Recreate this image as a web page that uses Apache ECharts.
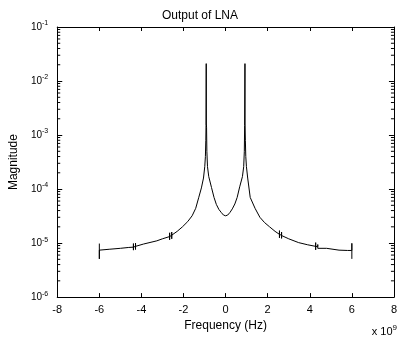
<!DOCTYPE html>
<html>
<head>
<meta charset="utf-8">
<script src="https://cdn.jsdelivr.net/npm/echarts@6/dist/echarts.min.js"></script>
<style>
  html, body { margin: 0; padding: 0; background: #fff; }
  #main { width: 400px; height: 337px; }
</style>
</head>
<body>
<div id="main"></div>
<script>
// frequency in units of 1e9 Hz, magnitude on log scale
var freq = [
  -6, -6, -6, -5.5, -5.0, -4.6,
  -4.38, -4.38, -4.38, -4.38, -4.28, -4.28, -4.28, -4.28,
  -3.9, -3.27, -3.0,
  -2.66, -2.66, -2.66, -2.66, -2.56, -2.56, -2.56, -2.56,
  -2.3, -2.05, -1.8, -1.59, -1.42, -1.28, -1.15, -1.05, -0.99, -0.96, -0.94, -0.93, -0.925,
  -0.92, -0.915, -0.905, -0.89, -0.86, -0.8, -0.67, -0.55, -0.44, -0.32, -0.21, -0.1, 0,
  0.1, 0.21, 0.32, 0.44, 0.55, 0.67, 0.8, 0.86, 0.89, 0.905, 0.915, 0.92, 0.925, 0.93,
  0.94, 0.96, 0.99, 1.05, 1.17, 1.4, 1.63, 1.85, 2.09, 2.35,
  2.56, 2.56, 2.56, 2.56, 2.66, 2.66, 2.66, 2.66,
  3.0, 3.47, 3.9,
  4.28, 4.28, 4.28, 4.28, 4.38, 4.38, 4.38, 4.38,
  4.8, 5.39, 5.8, 6, 6, 6
];
var magnitude = [
  9.8e-6, 5.1e-6, 7.4e-6, 7.7e-6, 8.0e-6, 8.3e-6,
  8.4e-6, 9.8e-6, 7.4e-6, 8.5e-6, 8.6e-6, 1.0e-5, 7.6e-6, 8.7e-6,
  9.6e-6, 1.1e-5, 1.2e-5,
  1.32e-5, 1.55e-5, 1.15e-5, 1.33e-5, 1.38e-5, 1.6e-5, 1.2e-5, 1.4e-5,
  1.65e-5, 2.0e-5, 2.5e-5, 3.2e-5, 4.4e-5, 6.9e-5, 1.05e-4, 1.6e-4, 2.6e-4, 4.0e-4, 8.0e-4, 1.5e-3, 1.5e-3,
  2.1e-2, 1.6e-3, 1.4e-3, 5.0e-4, 2.6e-4, 1.7e-4, 1.07e-4, 7.0e-5, 5.2e-5, 4.2e-5, 3.7e-5, 3.3e-5, 3.2e-5,
  3.3e-5, 3.7e-5, 4.3e-5, 5.3e-5, 7.0e-5, 1.1e-4, 1.7e-4, 2.6e-4, 5.0e-4, 1.5e-3, 1.6e-3, 2.1e-2, 1.6e-3, 1.5e-3,
  8.0e-4, 4.0e-4, 2.6e-4, 1.6e-4, 7.0e-5, 4.4e-5, 3.0e-5, 2.4e-5, 2.0e-5, 1.65e-5,
  1.45e-5, 1.7e-5, 1.25e-5, 1.44e-5, 1.4e-5, 1.6e-5, 1.22e-5, 1.38e-5,
  1.2e-5, 1.02e-5, 9.3e-6,
  8.7e-6, 1.02e-5, 7.5e-6, 8.7e-6, 8.6e-6, 9.4e-6, 8.0e-6, 8.5e-6,
  8.0e-6, 7.4e-6, 7.3e-6, 7.3e-6, 9.9e-6, 5.1e-6
];
var xTicks = [-8, -6, -4, -2, 0, 2, 4, 6, 8];
var yMin = 1e-6, yMax = 1e-1;

var lineData = freq.map(function (f, i) { return [f, magnitude[i]]; });

// minor tick positions for the log axis (2..9 x 10^k)
var minorTicks = [];
for (var k = -6; k <= -2; k++) {
  for (var m = 2; m <= 9; m++) minorTicks.push([0, m * Math.pow(10, k)]);
}

var fontName = 'Liberation Sans, Arial';

var dom = document.getElementById('main');
var myChart = echarts.init(dom, null, { renderer: 'canvas' });
var option = {
  animation: false,
  backgroundColor: '#fff',
  title: {
    text: 'Output of LNA',
    left: 'center',
    top: 5,
    textStyle: { color: '#000', fontFamily: fontName, fontSize: 12, fontWeight: 'normal' }
  },
  grid: { left: 50, right: 2, top: 27, bottom: 36 },
  xAxis: [
    {
      type: 'value', min: xTicks[0], max: xTicks[xTicks.length - 1], interval: 2, position: 'bottom',
      name: 'Frequency (Hz)', nameLocation: 'middle', nameGap: 20,
      nameTextStyle: { color: '#000', fontFamily: fontName, fontSize: 12 },
      axisLine: { show: true, onZero: false, lineStyle: { color: '#000', width: 1 } },
      axisTick: { show: true, inside: true, length: 4, lineStyle: { color: '#000' } },
      axisLabel: { margin: 7, color: '#000', fontFamily: fontName, fontSize: 11 },
      splitLine: { show: false }
    },
    {
      type: 'value', min: xTicks[0], max: xTicks[xTicks.length - 1], interval: 2, position: 'top',
      axisLine: { show: true, onZero: false, lineStyle: { color: '#000', width: 1 } },
      axisTick: { show: true, inside: true, length: 4, lineStyle: { color: '#000' } },
      axisLabel: { show: false },
      splitLine: { show: false }
    }
  ],
  yAxis: [
    {
      type: 'log', logBase: 10, min: yMin, max: yMax, position: 'left',
      name: 'Magnitude', nameLocation: 'middle', nameGap: 32, nameRotate: 90,
      nameTextStyle: { color: '#000', fontFamily: fontName, fontSize: 12 },
      axisLine: { show: true, onZero: false, lineStyle: { color: '#000', width: 1 } },
      axisTick: { show: true, inside: true, length: 5, lineStyle: { color: '#000' } },
      axisLabel: {
        margin: 9,
        color: '#000', fontFamily: fontName, fontSize: 10,
        formatter: function (v) {
          return '10{sup|' + Math.round(Math.log10(v)) + '}';
        },
        rich: {
          sup: { fontSize: 7, fontFamily: fontName, color: '#000', padding: [0, 0, 7, 0] }
        }
      },
      splitLine: { show: false }
    },
    {
      type: 'log', logBase: 10, min: yMin, max: yMax, position: 'right',
      axisLine: { show: true, onZero: false, lineStyle: { color: '#000', width: 1 } },
      axisTick: { show: true, inside: true, length: 5, lineStyle: { color: '#000' } },
      axisLabel: { show: false },
      splitLine: { show: false }
    }
  ],
  graphic: [
    {
      type: 'text',
      right: 3,
      top: 324,
      style: {
        text: 'x 10{s|9}',
        fill: '#000',
        font: '11px "Liberation Sans", Arial',
        rich: { s: { fontSize: 8, fontFamily: fontName, fill: '#000', padding: [0, 0, 7, 0] } }
      }
    }
  ],
  series: [
    {
      name: 'Output of LNA',
      type: 'line',
      xAxisIndex: 0,
      yAxisIndex: 0,
      data: lineData,
      showSymbol: false,
      symbol: 'none',
      lineStyle: { color: '#000', width: 1 },
      clip: true
    },
    {
      type: 'custom',
      xAxisIndex: 0,
      yAxisIndex: 0,
      silent: true,
      data: minorTicks,
      renderItem: function (params, api) {
        var v = api.value(1);
        var pl = api.coord([-8, v]);
        var pr = api.coord([8, v]);
        return {
          type: 'group',
          children: [
            { type: 'line', shape: { x1: pl[0], y1: pl[1], x2: pl[0] + 3, y2: pl[1] }, style: { stroke: '#000', lineWidth: 1 } },
            { type: 'line', shape: { x1: pr[0] - 3, y1: pr[1], x2: pr[0], y2: pr[1] }, style: { stroke: '#000', lineWidth: 1 } }
          ]
        };
      }
    }
  ]
};

if (option && typeof option === 'object') {
  myChart.setOption(option);
}
</script>
</body>
</html>
